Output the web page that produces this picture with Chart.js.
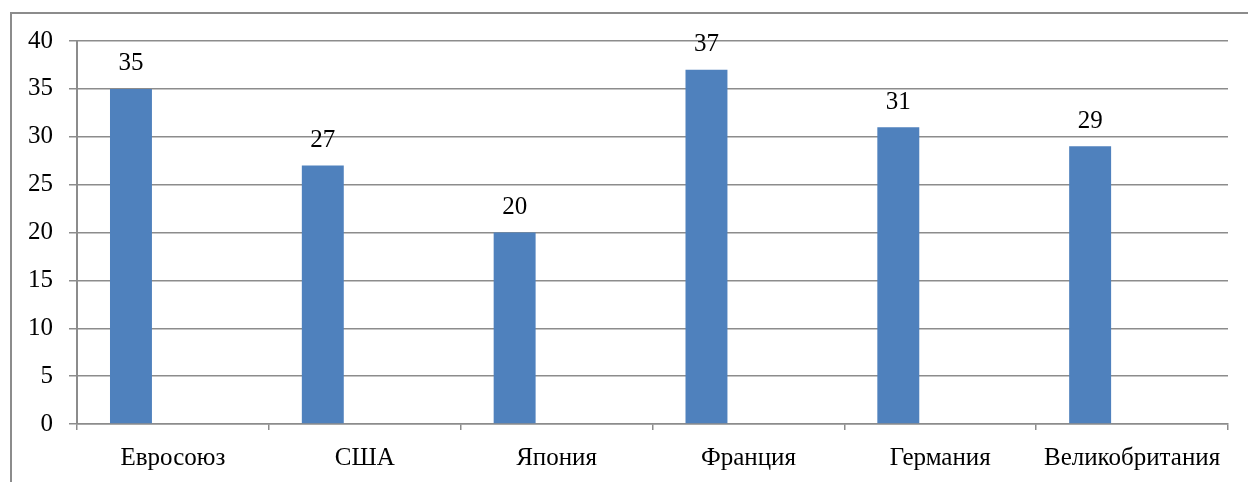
<!DOCTYPE html>
<html>
<head>
<meta charset="utf-8">
<script src="https://cdn.jsdelivr.net/npm/chart.js@4/dist/chart.umd.min.js"></script>
<style>
  html, body { margin: 0; padding: 0; background: #fff; }
  #wrap { position: relative; width: 1248px; height: 482px; }
  #frame { position: absolute; left: 10px; top: 12px; right: 0; bottom: 0;
           border-left: 2px solid #8c8c8c; border-top: 2px solid #8c8c8c; pointer-events: none; }
  canvas { position: absolute; left: 0; top: 0; }
</style>
</head>
<body>
<div id="wrap">
  <canvas id="c" width="1248" height="482"></canvas>
  <div id="frame"></div>
</div>
<script>
const categories = ['Евросоюз', 'США', 'Япония', 'Франция', 'Германия', 'Великобритания'];
const values = [35, 27, 20, 37, 31, 29];
const emptySeries = [null, null, null, null, null, null];
const yTicks = [0, 5, 10, 15, 20, 25, 30, 35, 40];

const FONT = "'Liberation Serif', 'Times New Roman', serif";
Chart.defaults.font.family = FONT;
Chart.defaults.font.size = 25;
Chart.defaults.color = '#000';

const valueLabels = {
  id: 'valueLabels',
  afterDatasetsDraw(chart) {
    const ctx = chart.ctx;
    const meta = chart.getDatasetMeta(0);
    ctx.save();
    ctx.font = "25px " + FONT;
    ctx.fillStyle = '#000';
    ctx.textAlign = 'center';
    ctx.textBaseline = 'middle';
    meta.data.forEach((bar, i) => {
      const v = chart.data.datasets[0].data[i];
      if (v == null) return;
      ctx.fillText(String(v), bar.x, bar.y - 25);
    });
    ctx.restore();
  }
};

new Chart(document.getElementById('c'), {
  type: 'bar',
  data: {
    labels: categories,
    datasets: [
      { data: values, backgroundColor: '#4f81bd', borderWidth: 0 },
      { data: emptySeries, backgroundColor: '#c0504d' },
      { data: emptySeries, backgroundColor: '#9bbb59' }
    ]
  },
  options: {
    responsive: false,
    animation: false,
    events: [],
    categoryPercentage: 0.656,
    barPercentage: 1.0,
    layout: { padding: { top: 41, right: 20, bottom: 0, left: 0 } },
    plugins: { legend: { display: false }, tooltip: { enabled: false } },
    scales: {
      x: {
        grid: { display: true, drawOnChartArea: false, drawTicks: true, tickLength: 6, color: '#8c8c8c', lineWidth: 1.5 },
        border: { display: true, color: '#8c8c8c', width: 1.5 },
        ticks: { padding: 13, maxRotation: 0, autoSkip: false },
        afterFit(scale) { scale.height = 58; }
      },
      y: {
        min: 0, max: 40,
        afterBuildTicks(scale) { scale.ticks = yTicks.map(v => ({ value: v })); },
        grid: { color: '#8c8c8c', lineWidth: 1.5, tickLength: 8, drawTicks: true },
        border: { display: true, color: '#8c8c8c', width: 2 },
        ticks: { padding: 16 },
        afterFit(scale) { scale.width = 77; }
      }
    }
  },
  plugins: [valueLabels]
});
</script>
</body>
</html>
